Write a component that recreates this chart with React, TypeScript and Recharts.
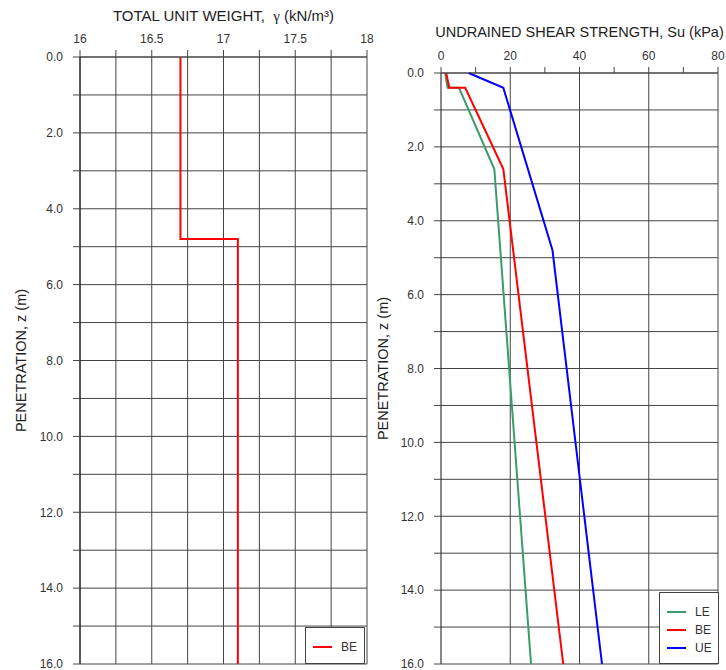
import { LineChart, Line, XAxis, YAxis, CartesianGrid, ReferenceLine, Legend, Label } from 'recharts'

// ── data ────────────────────────────────────────────────────────────────────

// total unit weight profile (kN/m³)
const gammaDepth = [0, 4.8, 4.8, 16]
const gammaBE = [16.7, 16.7, 17.1, 17.1]

// undrained shear strength profiles (kPa)
const leDepth = [0, 0.4, 0.4, 2.6, 16]
const leSu = [1.2, 1.9, 5.2, 15.4, 26]
const beDepth = [0, 0.4, 0.4, 2.6, 16]
const beSu = [1.5, 2.4, 7.0, 18, 35.3]
const ueDepth = [0, 0.4, 4.8, 16]
const ueSu = [8, 18, 32.2, 46.5]

const caseOrder = ['LE', 'BE', 'UE']

// axes
const depthTicks = [0, 1, 2, 3, 4, 5, 6, 7, 8, 9, 10, 11, 12, 13, 14, 15, 16]
const gammaTicks = [16, 16.25, 16.5, 16.75, 17, 17.25, 17.5, 17.75, 18]
const suTicks = [0, 10, 20, 30, 40, 50, 60, 70, 80]
const suGrid = [20, 40, 60, 80]

// ── styles ──────────────────────────────────────────────────────────────────

const FONT = '"Liberation Sans", Arial, sans-serif'
const GRID = '#444'
const TICK = { fontSize: 12, fill: '#333', fontFamily: FONT }
const GREEN = '#3a9b6b'
const RED = '#ff0000'
const BLUE = '#0000ff'

function toPoints(depth: number[], values: number[]) {
  return depth.map((z, i) => ({ z, v: values[i] }))
}

const depthLabel = (v: number) => (v % 2 === 0 ? v.toFixed(1) : '')

function BoxLegend({ payload, height }: any) {
  const items = [...(payload ?? [])].sort((a: any, b: any) => caseOrder.indexOf(a.value) - caseOrder.indexOf(b.value))
  return (
    <div
      style={{
        width: 60,
        height,
        boxSizing: 'border-box',
        border: `1px solid ${GRID}`,
        background: '#fff',
        paddingTop: 10,
        fontFamily: FONT,
        fontSize: 12,
        color: '#333',
      }}
    >
      {items.map((p: any) => (
        <div key={p.value} style={{ display: 'flex', alignItems: 'center', height: 18, paddingLeft: 7 }}>
          <span style={{ display: 'inline-block', width: 19, height: 2, background: p.color, marginRight: 9 }} />
          <span>{p.value}</span>
        </div>
      ))}
    </div>
  )
}

function GammaTitle({ viewBox }: any) {
  const cx = viewBox.x + viewBox.width / 2
  const y = viewBox.y - 16
  return (
    <text x={cx} y={y} textAnchor="middle" fontSize={15} fill="#222" fontFamily={FONT} style={{ whiteSpace: 'pre' }}>
      <tspan>TOTAL UNIT WEIGHT,  </tspan>
      <tspan fontFamily='"Liberation Serif", serif'>γ</tspan>
      <tspan> (kN/m³)</tspan>
    </text>
  )
}

// ── charts ──────────────────────────────────────────────────────────────────

function WeightChart() {
  return (
    <LineChart width={375} height={670} layout="vertical" margin={{ top: 37, right: 8, bottom: 6, left: 20 }}>
      <CartesianGrid stroke={GRID} />
      <XAxis
        type="number"
        orientation="top"
        domain={[16, 18]}
        ticks={gammaTicks}
        interval={0}
        height={20}
        tickSize={7}
        tickMargin={7}
        tick={TICK}
        tickLine={{ stroke: GRID }}
        axisLine={{ stroke: GRID }}
        tickFormatter={(v: number) => (Number.isInteger(v * 2) ? String(v) : '')}
      >
        <Label content={GammaTitle} />
      </XAxis>
      <YAxis
        type="number"
        dataKey="z"
        domain={[0, 16]}
        ticks={depthTicks}
        interval={0}
        width={60}
        tickSize={7}
        tickMargin={10}
        tick={TICK}
        tickLine={{ stroke: GRID }}
        axisLine={{ stroke: '#111' }}
        tickFormatter={depthLabel}
      >
        <Label
          value="PENETRATION, z (m)"
          angle={-90}
          position="insideLeft"
          offset={1}
          style={{ textAnchor: 'middle', fontSize: 14.5, fill: '#222', fontFamily: FONT }}
        />
      </YAxis>
      <Legend
        layout="horizontal"
        align="center"
        verticalAlign="middle"
        wrapperStyle={{ left: 305, top: 627, width: 62 }}
        content={(props: any) => <BoxLegend {...props} height={37} />}
      />
      <Line
        name="BE"
        data={toPoints(gammaDepth, gammaBE)}
        dataKey="v"
        stroke={RED}
        strokeWidth={2}
        dot={false}
        isAnimationActive={false}
      />
    </LineChart>
  )
}

function StrengthChart() {
  return (
    <LineChart width={356} height={670} layout="vertical" margin={{ top: 53, right: 8, bottom: 6, left: 10 }}>
      <CartesianGrid stroke={GRID} vertical={false} />
      {suGrid.map((x) => (
        <ReferenceLine key={x} x={x} stroke={GRID} />
      ))}
      <XAxis
        type="number"
        orientation="top"
        domain={[0, 80]}
        ticks={suTicks}
        interval={0}
        height={20}
        tickSize={6}
        tickMargin={7}
        tick={TICK}
        tickLine={{ stroke: GRID }}
        axisLine={{ stroke: GRID }}
        tickFormatter={(v: number) => (v % 20 === 0 ? String(v) : '')}
      >
        <Label
          value="UNDRAINED SHEAR STRENGTH, Su (kPa)"
          position="top"
          offset={16}
          style={{ fontSize: 14.5, fill: '#222', fontFamily: FONT }}
        />
      </XAxis>
      <YAxis
        type="number"
        dataKey="z"
        domain={[0, 16]}
        ticks={depthTicks}
        interval={0}
        width={61}
        tickSize={7}
        tickMargin={10}
        tick={TICK}
        tickLine={{ stroke: GRID }}
        axisLine={{ stroke: '#111' }}
        tickFormatter={depthLabel}
      >
        <Label
          value="PENETRATION, z (m)"
          angle={-90}
          position="insideLeft"
          offset={3}
          style={{ textAnchor: 'middle', fontSize: 14.5, fill: '#222', fontFamily: FONT }}
        />
      </YAxis>
      <Legend
        layout="horizontal"
        align="center"
        verticalAlign="middle"
        wrapperStyle={{ left: 289, top: 592, width: 62 }}
        content={(props: any) => <BoxLegend {...props} height={72} />}
      />
      <Line name="LE" data={toPoints(leDepth, leSu)} dataKey="v" stroke={GREEN} strokeWidth={2} dot={false} isAnimationActive={false} />
      <Line name="BE" data={toPoints(beDepth, beSu)} dataKey="v" stroke={RED} strokeWidth={2} dot={false} isAnimationActive={false} />
      <Line name="UE" data={toPoints(ueDepth, ueSu)} dataKey="v" stroke={BLUE} strokeWidth={2} dot={false} isAnimationActive={false} />
    </LineChart>
  )
}

export default function App() {
  return (
    <div style={{ position: 'absolute', left: 0, top: 0, width: 726, height: 670, background: '#fff', overflow: 'hidden' }}>
      <div style={{ position: 'absolute', left: 0, top: 0 }}>
        <WeightChart />
      </div>
      <div style={{ position: 'absolute', left: 370, top: 0 }}>
        <StrengthChart />
      </div>
    </div>
  )
}
